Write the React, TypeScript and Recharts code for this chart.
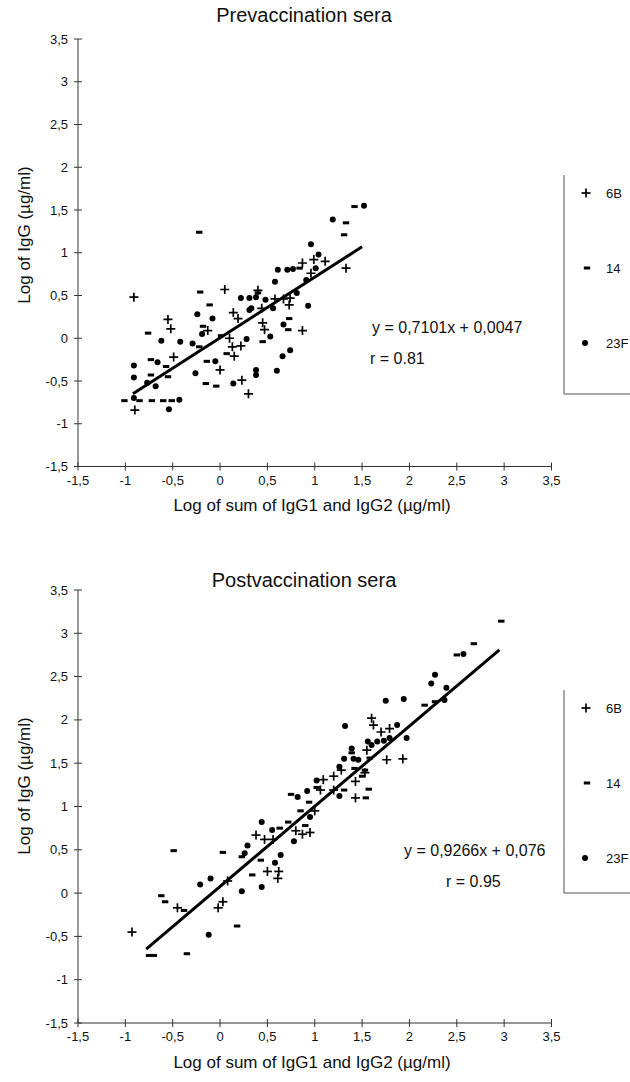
import React from 'react';
import { ScatterChart, Scatter, XAxis, YAxis, ReferenceLine } from 'recharts';

const FONT = '"Liberation Sans", Arial, Helvetica, sans-serif';
const axisTicks = [-1.5, -1, -0.5, 0, 0.5, 1, 1.5, 2, 2.5, 3, 3.5];
const fmt = (v: number) => String(v).replace('.', ',');

// ---- Prevaccination sera ----
const pre6B = [
  [-0.91, 0.48], [0.05, 0.57], [0.14, 0.3], [0.19, 0.23], [-0.55, 0.22], [-0.52, 0.11], [-0.13, 0.09],
  [0.1, 0.0], [0.13, -0.1], [0.22, -0.09], [0.15, -0.21], [-0.49, -0.22], [0.0, -0.37], [0.23, -0.49],
  [0.3, -0.65], [-0.9, -0.84], [1.33, 0.82], [1.11, 0.9], [0.99, 0.92], [0.87, 0.88], [0.96, 0.76],
  [0.4, 0.56], [0.58, 0.46], [0.67, 0.46], [0.74, 0.47], [0.73, 0.39], [0.44, 0.35], [0.45, 0.18],
  [0.47, 0.1], [0.87, 0.09],
];
const pre14 = [
  [-0.22, 1.24], [-0.21, 0.54], [-0.11, 0.39], [-0.76, 0.06], [-0.18, 0.14], [-0.22, -0.1], [0.01, 0.03],
  [0.07, -0.18], [-0.73, -0.25], [-0.57, -0.33], [-0.14, -0.27], [-0.73, -0.43], [-0.55, -0.45],
  [-0.15, -0.53], [-0.04, -0.56], [-1.01, -0.73], [-0.85, -0.73], [-0.72, -0.73], [-0.6, -0.73],
  [-0.51, -0.73], [1.42, 1.54], [1.33, 1.35], [1.31, 1.21], [0.84, 0.82], [0.4, 0.53], [0.73, 0.23],
  [0.45, -0.04], [0.72, 0.1],
];
const pre23F = [
  [0.22, 0.47], [0.31, 0.47], [0.31, 0.33], [-0.24, 0.28], [-0.08, 0.23], [-0.62, -0.03], [-0.42, -0.04],
  [-0.19, 0.05], [-0.29, -0.06], [0.28, -0.01], [-0.66, -0.28], [-0.91, -0.32], [-0.05, -0.27],
  [0.38, -0.37], [-0.26, -0.41], [-0.91, -0.46], [-0.77, -0.52], [-0.68, -0.56], [0.14, -0.53],
  [-0.91, -0.7], [-0.43, -0.72], [-0.54, -0.83], [1.52, 1.55], [1.19, 1.39], [0.96, 1.1], [1.04, 0.98],
  [1.01, 0.82], [0.61, 0.8], [0.71, 0.8], [0.77, 0.81], [0.58, 0.66], [0.91, 0.68], [0.81, 0.53],
  [0.38, 0.48], [0.48, 0.45], [0.56, 0.35], [0.93, 0.38], [0.33, 0.35], [0.53, 0.02], [0.67, 0.16],
  [0.66, -0.21], [0.74, -0.14], [0.38, -0.43], [0.6, -0.38],
];
const preSlope = 0.7101;
const preIntercept = 0.0047;
const preLineX = [-0.92, 1.5];

// ---- Postvaccination sera ----
const post6B = [
  [1.6, 2.02], [1.62, 1.94], [1.7, 1.86], [1.79, 1.9], [1.55, 1.65], [1.93, 1.55], [1.76, 1.54],
  [1.53, 1.39], [1.28, 1.42], [1.2, 1.35], [1.43, 1.29], [1.09, 1.31], [1.06, 1.19], [1.2, 1.19],
  [1.43, 1.1], [0.38, 0.67], [0.47, 0.62], [0.56, 0.62], [0.5, 0.25], [0.62, 0.25], [0.61, 0.17],
  [0.08, 0.14], [0.8, 0.72], [0.87, 0.68], [0.95, 0.7], [1.0, 0.95], [-0.93, -0.45], [-0.45, -0.17],
  [-0.02, -0.17], [0.03, -0.1],
];
const post14 = [
  [2.97, 3.14], [2.68, 2.88], [2.5, 2.75], [2.16, 2.17], [2.27, 2.21], [1.39, 1.62], [1.58, 1.56],
  [1.53, 1.42], [1.42, 1.44], [1.5, 1.35], [1.02, 1.22], [1.31, 1.19], [1.54, 1.1], [1.57, 1.2],
  [0.75, 1.14], [0.94, 1.05], [-0.49, 0.49], [0.03, 0.47], [0.63, 0.75], [0.23, 0.42], [0.43, 0.38],
  [0.34, 0.21], [-0.62, -0.03], [0.72, 0.82], [0.9, 0.78], [0.85, 0.95], [-0.75, -0.72], [-0.7, -0.72],
  [-0.35, -0.7], [0.18, -0.38], [-0.38, -0.2], [-0.58, -0.1],
];
const post23F = [
  [2.57, 2.76], [2.27, 2.52], [2.23, 2.42], [2.39, 2.37], [2.37, 2.23], [1.75, 2.22], [1.94, 2.24],
  [1.32, 1.93], [1.87, 1.94], [1.97, 1.79], [1.6, 1.71], [1.66, 1.75], [1.73, 1.76], [1.39, 1.67],
  [1.79, 1.79], [1.56, 1.75], [1.46, 1.54], [1.31, 1.55], [1.41, 1.55], [1.26, 1.46], [1.02, 1.3],
  [0.92, 1.18], [1.26, 1.12], [0.82, 1.11], [0.44, 0.82], [0.55, 0.73], [0.29, 0.55], [0.26, 0.46],
  [0.64, 0.44], [0.58, 0.35], [-0.21, 0.1], [-0.1, 0.17], [0.44, 0.07], [0.23, 0.02], [0.78, 0.6],
  [0.95, 0.88], [-0.12, -0.48],
];
const postSlope = 0.9266;
const postIntercept = 0.076;
const postLineX = [-0.78, 2.95];

const toPts = (a: number[][]) => a.map(([x, y]) => ({ x, y }));

const PlusShape = (p: any) => (
  <g>
    <line x1={p.cx - 4.5} x2={p.cx + 4.5} y1={p.cy} y2={p.cy} stroke="#000" strokeWidth={1.7} />
    <line x1={p.cx} x2={p.cx} y1={p.cy - 4.5} y2={p.cy + 4.5} stroke="#000" strokeWidth={1.7} />
  </g>
);
const DashShape = (p: any) => <rect x={p.cx - 3.2} y={p.cy - 1.5} width={6.4} height={3} fill="#000" />;
const DotShape = (p: any) => <circle cx={p.cx} cy={p.cy} r={3} fill="#000" />;

const YTick = (p: any) => (
  <g>
    <line x1={p.x - 4} x2={p.x + 4} y1={p.y} y2={p.y} stroke="#333" />
    <text x={p.x - 10} y={p.y + 4.5} textAnchor="end" fontSize={13} fill="#111" fontFamily={FONT}>
      {fmt(p.payload.value)}
    </text>
  </g>
);
const XTick = (p: any) => (
  <g>
    <line x1={p.x} x2={p.x} y1={p.y - 4} y2={p.y + 4} stroke="#333" />
    <text x={p.x} y={p.y + 18} textAnchor="middle" fontSize={13} fill="#111" fontFamily={FONT}>
      {fmt(p.payload.value)}
    </text>
  </g>
);

function Panel(props: {
  height: number; mTop: number; mBottom: number;
  s6B: number[][]; s14: number[][]; s23F: number[][];
  lineX: number[]; slope: number; intercept: number;
}) {
  const { height, mTop, mBottom, s6B, s14, s23F, lineX, slope, intercept } = props;
  const seg = lineX.map((x) => ({ x, y: slope * x + intercept }));
  return (
    <ScatterChart width={630} height={height} margin={{ top: mTop, right: 78.5, left: 38, bottom: mBottom }}>
      <XAxis type="number" dataKey="x" domain={[-1.5, 3.5]} ticks={axisTicks} allowDataOverflow
        height={30} tickSize={0} tickMargin={0} tick={<XTick />} stroke="#333" />
      <YAxis type="number" dataKey="y" domain={[-1.5, 3.5]} ticks={axisTicks} allowDataOverflow
        width={40} tickSize={0} tickMargin={0} tick={<YTick />} stroke="#333" />
      <ReferenceLine segment={seg} stroke="#000" strokeWidth={3} ifOverflow="visible" />
      <Scatter data={toPts(s6B)} shape={PlusShape} isAnimationActive={false} />
      <Scatter data={toPts(s14)} shape={DashShape} isAnimationActive={false} />
      <Scatter data={toPts(s23F)} shape={DotShape} isAnimationActive={false} />
    </ScatterChart>
  );
}

function Legend({ top, bottom, y6, y14, y23 }: { top: number; bottom: number; y6: number; y14: number; y23: number }) {
  return (
    <g fontFamily={FONT} fontSize={13} fill="#111">
      <path d={`M564 ${top} V${bottom} H630`} fill="none" stroke="#555" strokeWidth={1} />
      <PlusShape cx={586} cy={y6} />
      <text x={606} y={y6 + 4.5}>6B</text>
      <DashShape cx={587} cy={y14} />
      <text x={606} y={y14 + 4.5}>14</text>
      <DotShape cx={585} cy={y23} />
      <text x={606} y={y23 + 4.5}>23F</text>
    </g>
  );
}

export default function App() {
  return (
    <div style={{ position: 'relative', width: 630, height: 1082, background: '#fff' }}>
      <style>{`body{margin:0;background:#fff}`}</style>
      <Panel height={540} mTop={39} mBottom={43.5} s6B={pre6B} s14={pre14} s23F={pre23F}
        lineX={preLineX} slope={preSlope} intercept={preIntercept} />
      <Panel height={542} mTop={50} mBottom={29} s6B={post6B} s14={post14} s23F={post23F}
        lineX={postLineX} slope={postSlope} intercept={postIntercept} />
      <svg width={630} height={1082} style={{ position: 'absolute', left: 0, top: 0, pointerEvents: 'none' }}
        fontFamily={FONT} fill="#111">
        <text x={304} y={22} fontSize={20} textAnchor="middle">Prevaccination sera</text>
        <text transform="translate(30,235) rotate(-90)" fontSize={17} textAnchor="middle">Log of IgG (µg/ml)</text>
        <text x={312} y={511} fontSize={17} textAnchor="middle">Log of sum of IgG1 and IgG2 (µg/ml)</text>
        <text x={372} y={333} fontSize={16}>y = 0,7101x + 0,0047</text>
        <text x={370} y={364} fontSize={16}>r = 0.81</text>
        <Legend top={175} bottom={394} y6={193} y14={268} y23={343} />

        <text x={304} y={587} fontSize={20} textAnchor="middle">Postvaccination sera</text>
        <text transform="translate(30,786) rotate(-90)" fontSize={17} textAnchor="middle">Log of IgG (µg/ml)</text>
        <text x={312} y={1068} fontSize={17} textAnchor="middle">Log of sum of IgG1 and IgG2 (µg/ml)</text>
        <text x={404} y={856} fontSize={16}>y = 0,9266x + 0,076</text>
        <text x={446} y={887} fontSize={16}>r = 0.95</text>
        <Legend top={690} bottom={893} y6={708} y14={783} y23={858} />
      </svg>
    </div>
  );
}
